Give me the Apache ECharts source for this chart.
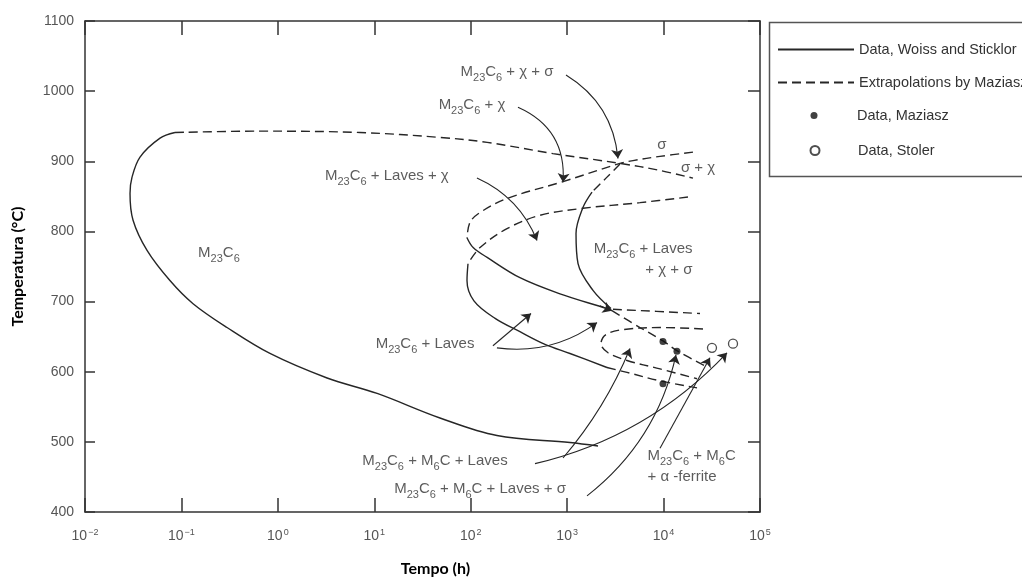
<!DOCTYPE html>
<html>
<head>
<meta charset="utf-8">
<title>TTP diagram</title>
<script src="https://cdn.jsdelivr.net/npm/echarts@6/dist/echarts.min.js"></script>
<style>
html,body{margin:0;padding:0;background:#ffffff;}
#chart{width:1022px;height:583px;}
</style>
</head>
<body>
<div id="chart"></div>
<script>
// ---------- axis ticks ----------
const timeTickExponents = ['\u22122', '\u22121', '0', '1', '2', '3', '4', '5'];
const temperatureTicks = [400, 500, 600, 700, 800, 900, 1000, 1100];

// ---------- curves: [time (h), temperature (°C)] ----------
// M23C6 C-curve (solid) and its extrapolated top (dashed)
const m23c6Solid = [[0.0857,941],[0.060,933],[0.0372,906],[0.0307,877],[0.0293,854],[0.0315,816],[0.044,773],[0.076,730],[0.132,697],[0.297,663],[0.828,626],[3.24,591],[10.7,569],[48,534],[187,509],[1070,499],[2090,494]];
const m23c6Dash = [[0.0857,941],[0.653,943],[7.11,941],[48,934],[148,927],[713,911],[3532,897],[9183,887],[20180,876]];
// Laves curve
const lavesDashTop = [[20180,913],[9183,907],[4819,901],[3532,897],[906,871],[238,847],[125,827],[98.4,813],[91.5,791]];
const lavesSolid = [[91.5,791],[106,777],[148,763],[324,734],[843,711],[2588,690],[2917,687]];
const lavesDashLow = [[2917,687],[5690,663],[9862,644],[13770,630],[28200,607]];
// sigma curve
const sigmaDash = [[3532,896],[2529,876],[1811,856]];
const sigmaSolid = [[1811,856],[1459,834],[1236,797],[1297,754],[1854,716],[2851,690]];
// chi curve
const chiDashTop = [[17900,849],[5690,841],[1459,833],[523,823],[238,804],[125,777],[93.7,754]];
const chiSolid = [[93.7,754],[91.5,730],[108,701],[179,676],[324,657],[589,639],[1070,626],[2588,606]];
const chiDashLow = [[2588,606],[4178,599],[9183,587],[22230,577]];
// small extrapolated loop and flat extrapolation
const loopDash = [[25640,661],[9183,663],[3793,660],[2529,653],[2244,640],[2655,627],[4178,616],[9183,604],[22230,590]];
const flatDash = [[2985,689],[23870,683]];

// ---------- data points ----------
const maziaszPoints = [[9862,643],[13770,629],[9862,583]];
const stolerPoints = [[31770,634],[52480,640]];

// ---------- leader arrows: [from, to] in [time, temperature] ----------
const leaders = [
  [[973,1023],[3365,904]],
  [[309,977],[906,870]],
  [[116,876],[487,787]],
  [[170,637],[422,683]],
  [[187,634],[2042,670]],
  [[464,469],[45500,627]],
  [[906,477],[4487,633]],
  [[1607,423],[13450,624]],
  [[9183,491],[30270,620]],
  [[2193,694],[2917,687]]
];
const leaderBend = [0.25, 0.35, 0.2, 0, -0.2, -0.15, -0.08, -0.18, 0, 0];

// ---------- region labels ----------
const regionNames = [
  'M_23C_6 + \u03c7 + \u03c3',
  'M_23C_6 + \u03c7',
  'M_23C_6 + Laves + \u03c7',
  'M_23C_6',
  'M_23C_6 + Laves',
  'M_23C_6 + Laves\n+ \u03c7 + \u03c3',
  'M_23C_6 + M_6C + Laves',
  'M_23C_6 + M_6C + Laves + \u03c3',
  'M_23C_6 + M_6C\n+ \u03b1 -ferrite',
  '\u03c3',
  '\u03c3 + \u03c7'
];
const regionAt = [[238,1027],[103,980],[13.5,879],[0.245,770],[33.6,639],[20180,761],[42.6,473],[125,433],[6730,466],[9630,923],[22750,891]];

// ---------- build ----------
const INK = '#262626';
const FONT = "'Liberation Sans', Arial, sans-serif";
const DASH = [9, 5];
const SOLID_NAME = 'Data, Woiss and Sticklor';
const DASH_NAME = 'Extrapolations by Maziasz';

function curve(data, dashed) {
  return {
    type: 'line', name: dashed ? DASH_NAME : SOLID_NAME, data: data,
    smooth: 0.35, symbol: 'none', silent: true, z: 3,
    lineStyle: { color: INK, width: 1.4, type: dashed ? DASH : 'solid' }
  };
}
function toRich(s) {
  return s.split('\n').map(function (line) {
    return '{m|' + line.replace(/_(\d+)/g, '}{s|$1}{m|') + '}';
  }).join('\n');
}

const series = [
  curve(m23c6Solid, false), curve(m23c6Dash, true),
  curve(lavesSolid, false), curve(lavesDashTop, true), curve(lavesDashLow, true),
  curve(sigmaSolid, false), curve(sigmaDash, true),
  curve(chiSolid, false), curve(chiDashTop, true), curve(chiDashLow, true),
  curve(loopDash, true), curve(flatDash, true),
  {
    type: 'scatter', name: 'Data, Maziasz', data: maziaszPoints, symbol: 'circle', symbolSize: 7,
    itemStyle: { color: '#111' }, z: 5, silent: true
  },
  {
    type: 'scatter', name: 'Data, Stoler', data: stolerPoints, symbol: 'circle', symbolSize: 9,
    itemStyle: { color: '#ffffff', borderColor: '#222', borderWidth: 1.3 }, z: 5, silent: true
  },
  {
    type: 'lines', name: 'leaders', coordinateSystem: 'cartesian2d', polyline: false, silent: true, z: 4,
    symbol: ['none', 'arrow'], symbolSize: [6, 9],
    lineStyle: { color: INK, width: 1.1, opacity: 1 },
    data: leaders.map(function (p, i) {
      return { coords: p, lineStyle: { curveness: leaderBend[i] } };
    })
  },
  {
    type: 'scatter', name: 'labels', symbolSize: 1, silent: true, z: 6,
    itemStyle: { color: 'rgba(0,0,0,0)' },
    label: {
      show: true, position: 'inside', color: '#333',
      formatter: function (p) { return toRich(p.name); },
      rich: {
        m: { fontSize: 15, fontFamily: FONT, color: '#333', lineHeight: 20 },
        s: { fontSize: 11, fontFamily: FONT, color: '#333', padding: [12, 0, 0, 0] }
      }
    },
    data: regionNames.map(function (n, i) {
      const item = { name: n, value: regionAt[i] };
      if (i === 5) item.label = { position: 'left', distance: 0 };
      if (i === 8) item.label = { position: 'right', distance: 0 };
      return item;
    })
  }
];

const axisLineStyle = { color: '#333', width: 1.5 };
const option = {
  animation: false,
  backgroundColor: '#ffffff',
  grid: { left: 85, right: 262, top: 21, bottom: 71, containLabel: false },
  xAxis: [
    {
      type: 'log', logBase: 10, min: 0.01, max: 100000, position: 'bottom',
      axisLine: { lineStyle: axisLineStyle },
      axisTick: { inside: true, length: 14, lineStyle: axisLineStyle },
      splitLine: { show: false }, minorTick: { show: false },
      axisLabel: {
        margin: 16, color: '#555',
        formatter: function (v) {
          const idx = Math.round(Math.log10(v)) + 2;
          return '{b|10}{p|' + timeTickExponents[idx] + '}';
        },
        rich: {
          b: { fontSize: 14, fontFamily: FONT, color: '#555' },
          p: { fontSize: 9, fontFamily: FONT, color: '#555', padding: [0, 0, 8, 1] }
        }
      },
      name: 'Tempo (h)', nameLocation: 'middle', nameGap: 49,
      nameTextStyle: { fontFamily: 'Lato, sans-serif', fontWeight: 'bold', fontSize: 16, color: '#000', padding: [0, 0, 0, 26] }
    },
    {
      type: 'log', logBase: 10, min: 0.01, max: 100000, position: 'top',
      axisLine: { lineStyle: axisLineStyle },
      axisTick: { inside: true, length: 14, lineStyle: axisLineStyle },
      axisLabel: { show: false }, splitLine: { show: false }
    }
  ],
  yAxis: [
    {
      type: 'value', min: temperatureTicks[0], max: temperatureTicks[temperatureTicks.length - 1], interval: 100,
      position: 'left',
      axisLine: { show: true, lineStyle: axisLineStyle },
      axisTick: { show: true, inside: true, length: 10, lineStyle: axisLineStyle },
      splitLine: { show: false },
      axisLabel: { margin: 11, fontSize: 14, fontFamily: FONT, color: '#555', formatter: function (v) { return String(v); } },
      name: 'Temperatura (\u00b0C)', nameLocation: 'middle', nameGap: 59, nameRotate: 90,
      nameTextStyle: { fontFamily: 'Lato, sans-serif', fontWeight: 'bold', fontSize: 16, color: '#000' }
    },
    {
      type: 'value', min: temperatureTicks[0], max: temperatureTicks[temperatureTicks.length - 1], interval: 100,
      position: 'right',
      axisLine: { show: true, lineStyle: axisLineStyle },
      axisTick: { show: true, inside: true, length: 12, lineStyle: axisLineStyle },
      splitLine: { show: false }, axisLabel: { show: false }
    }
  ],
  legend: [
    {
      data: [{ name: SOLID_NAME, itemStyle: { opacity: 0 } }, { name: DASH_NAME, itemStyle: { opacity: 0 } }],
      orient: 'vertical', left: 777, top: 42, itemWidth: 76, itemHeight: 14, itemGap: 18, padding: 0,
      selectedMode: false, textStyle: { fontFamily: FONT, fontSize: 14.5, color: '#333' }
    },
    {
      data: ['Data, Maziasz'], orient: 'vertical', left: 810.5, top: 108, itemWidth: 76, itemHeight: 7, padding: 0,
      selectedMode: false, textStyle: { fontFamily: FONT, fontSize: 14.5, color: '#333' }
    },
    {
      data: ['Data, Stoler'], orient: 'vertical', left: 809.5, top: 143, itemWidth: 76, itemHeight: 9, padding: 0,
      selectedMode: false, textStyle: { fontFamily: FONT, fontSize: 14.5, color: '#333' }
    }
  ],
  graphic: [
    {
      type: 'rect', left: 767, top: 20, silent: true,
      shape: { width: 270, height: 154 },
      style: { fill: 'none', stroke: '#555', lineWidth: 1.5 }
    }
  ],
  series: series
};

const chart = echarts.init(document.getElementById('chart'));
chart.setOption(option);
</script>
</body>
</html>
